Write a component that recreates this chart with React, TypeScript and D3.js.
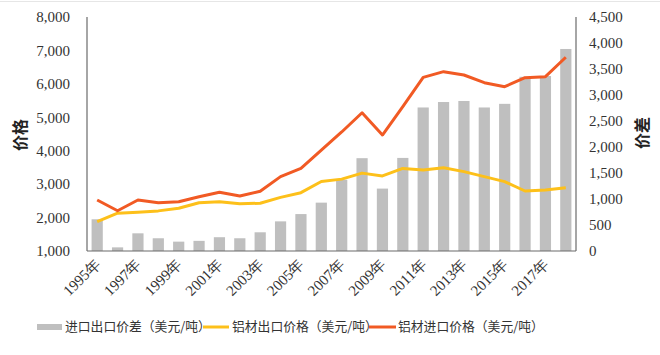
import React from "react";
import * as d3 from "d3";

const years = [
  "1995", "1996", "1997", "1998", "1999", "2000", "2001", "2002", "2003", "2004", "2005", "2006",
  "2007", "2008", "2009", "2010", "2011", "2012", "2013", "2014", "2015", "2016", "2017", "2018",
];
const priceDiff = [
  610, 70, 340, 245, 180, 195, 265, 245, 360, 570, 710, 930,
  1370, 1785, 1200, 1790, 2760, 2865, 2885, 2760, 2830, 3350, 3365, 3885,
];
const exportPrice = [
  1880, 2130, 2160, 2200, 2280, 2445, 2475, 2410, 2430, 2605, 2745, 3080,
  3150, 3330, 3245, 3470, 3425, 3490, 3375, 3225, 3075, 2795, 2825, 2895,
];
const importPrice = [
  2525, 2205, 2525, 2445, 2475, 2625, 2755, 2645, 2785, 3225, 3475, 4020,
  4560, 5135, 4470, 5320, 6195, 6365, 6265, 6035, 5915, 6185, 6215, 6795,
];
const leftTicks = [1000, 2000, 3000, 4000, 5000, 6000, 7000, 8000];
const rightTicks = [0, 500, 1000, 1500, 2000, 2500, 3000, 3500, 4000, 4500];
const legendLabels = ["进口出口价差（美元/吨）", "铝材出口价格（美元/吨）", "铝材进口价格（美元/吨）"];

const W = 660;
const H = 355;
const left = 87;
const right = 576;
const top = 17;
const bottom = 251;

const GRAY = "#bfbfbf";
const YELLOW = "#fdc01a";
const ORANGE = "#f15a24";
const TEXT = "#333333";
const SERIF = "'Liberation Serif', 'Times New Roman', serif";
const SANS = "'Noto Sans CJK SC', 'Noto Sans', sans-serif";

export default function App() {
  const x = d3.scaleBand<string>().domain(years).range([left, right]).padding(0);
  const yL = d3.scaleLinear().domain([1000, 8000]).range([bottom, top]);
  const yR = d3.scaleLinear().domain([0, 4500]).range([bottom, top]);
  const bw = x.bandwidth() * 0.55;
  const cx = (y: string) => (x(y) as number) + x.bandwidth() / 2;
  const fmt = d3.format(",");

  const line = d3
    .line<number>()
    .x((_, i) => cx(years[i]))
    .y((d) => yL(d));

  const labelYears = years.filter((_, i) => i % 2 === 0);

  return (
    <svg
      width={W}
      height={H}
      style={{ position: "absolute", left: 0, top: 0, background: "#fff" }}
    >
      <line x1={0} x2={W} y1={1.5} y2={1.5} stroke="#e6e6e6" strokeWidth={1} />
      {priceDiff.map((v, i) => (
        <rect
          key={years[i]}
          x={cx(years[i]) - bw / 2}
          y={yR(v)}
          width={bw}
          height={yR(0) - yR(v)}
          fill={GRAY}
        />
      ))}
      <path d={line(exportPrice) || ""} fill="none" stroke={YELLOW} strokeWidth={3} strokeLinejoin="round" />
      <path d={line(importPrice) || ""} fill="none" stroke={ORANGE} strokeWidth={3} strokeLinejoin="round" />
      <line x1={left} x2={left} y1={top} y2={bottom} stroke="#6b6b6b" strokeWidth={1.2} />
      <line x1={right} x2={right} y1={top} y2={bottom} stroke="#6b6b6b" strokeWidth={1.2} />
      <line x1={left} x2={right} y1={bottom} y2={bottom} stroke="#6b6b6b" strokeWidth={1.2} />
      {leftTicks.map((t) => (
        <text key={t} x={70} y={yL(t)} dy="0.35em" textAnchor="end" fontFamily={SERIF} fontSize={15} fill={TEXT}>
          {fmt(t)}
        </text>
      ))}
      {rightTicks.map((t) => (
        <text key={t} x={589} y={yR(t)} dy="0.35em" textAnchor="start" fontFamily={SERIF} fontSize={15} fill={TEXT}>
          {fmt(t)}
        </text>
      ))}
      {labelYears.map((y) => (
        <text
          key={y}
          transform={`translate(${cx(y) + 4},${bottom + 14}) rotate(-45)`}
          textAnchor="end"
          fontFamily={SERIF}
          fontSize={15}
          fill={TEXT}
        >
          {y}年
        </text>
      ))}
      <text
        transform={`translate(20,135) rotate(-90)`}
        textAnchor="middle"
        dy="0.35em"
        fontFamily={SANS}
        fontWeight="bold"
        fontSize={16}
        fill="#222"
      >
        价格
      </text>
      <text
        transform={`translate(642,133) rotate(-90)`}
        textAnchor="middle"
        dy="0.35em"
        fontFamily={SANS}
        fontWeight="bold"
        fontSize={16}
        fill="#222"
      >
        价差
      </text>
      <rect x={37} y={324} width={25} height={6} fill={GRAY} />
      <text x={65} y={327} dy="0.35em" fontFamily={SANS} fontSize={12.8} fill={TEXT}>
        {legendLabels[0]}
      </text>
      <line x1={203} x2={229} y1={327} y2={327} stroke={YELLOW} strokeWidth={3} />
      <text x={232} y={327} dy="0.35em" fontFamily={SANS} fontSize={12.8} fill={TEXT}>
        {legendLabels[1]}
      </text>
      <line x1={369} x2={396} y1={327} y2={327} stroke={ORANGE} strokeWidth={3} />
      <text x={398} y={327} dy="0.35em" fontFamily={SANS} fontSize={12.8} fill={TEXT}>
        {legendLabels[2]}
      </text>
    </svg>
  );
}
